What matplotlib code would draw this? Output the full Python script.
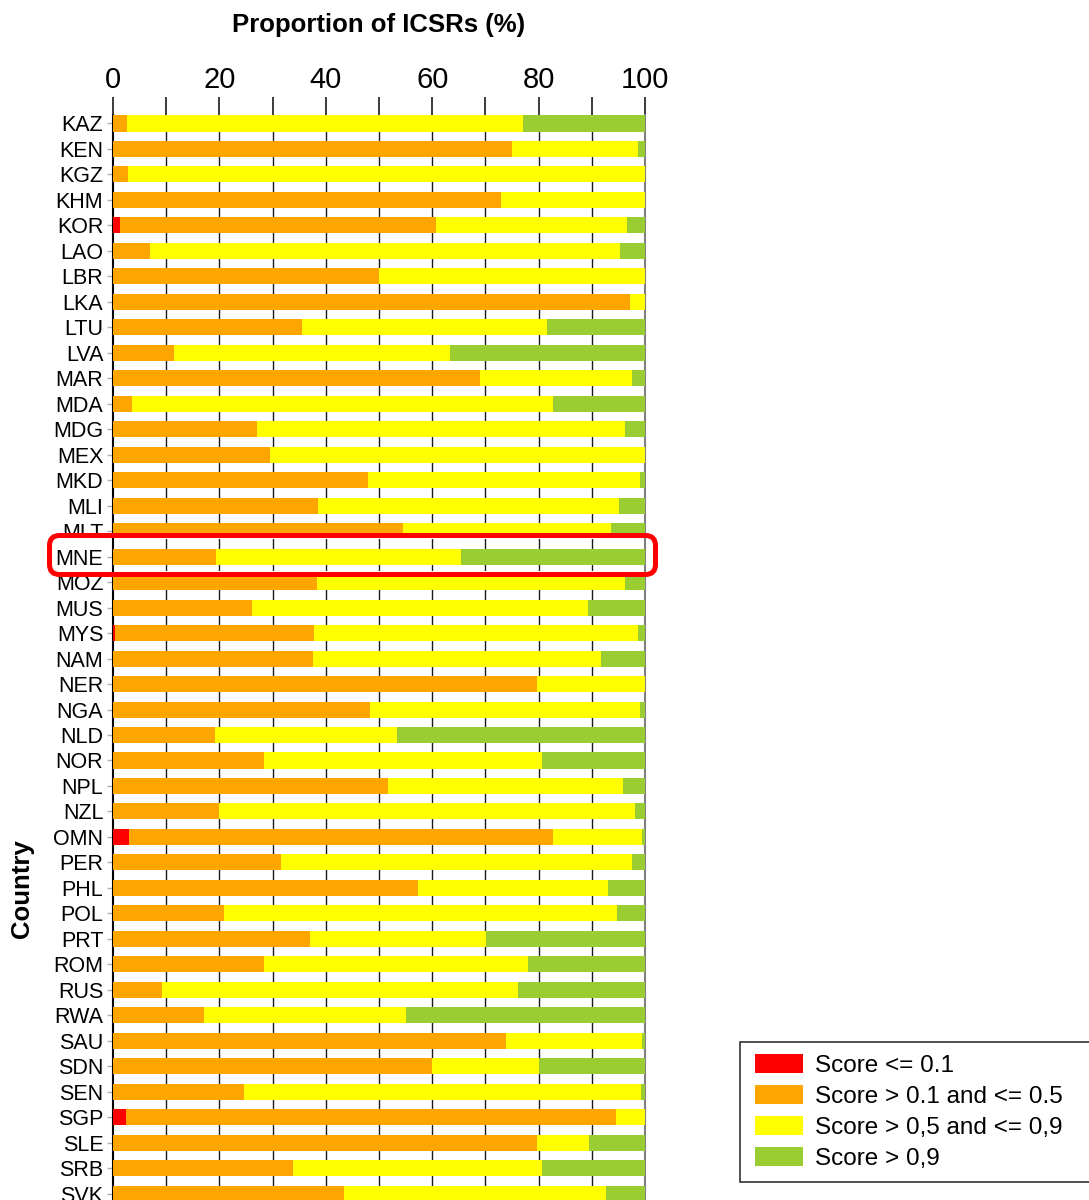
import numpy as np
import matplotlib
matplotlib.use("Agg")
import matplotlib.pyplot as plt
import matplotlib.patches as patches
from matplotlib.transforms import IdentityTransform

plt.rcParams['font.family'] = ['Liberation Sans', 'DejaVu Sans']

# ── Data: share of ICSRs per completeness-score band (%) ─────────
countries = ["KAZ", "KEN", "KGZ", "KHM", "KOR", "LAO", "LBR", "LKA", "LTU",
             "LVA", "MAR", "MDA", "MDG", "MEX", "MKD", "MLI", "MLT", "MNE",
             "MOZ", "MUS", "MYS", "NAM", "NER", "NGA", "NLD", "NOR", "NPL",
             "NZL", "OMN", "PER", "PHL", "POL", "PRT", "ROM", "RUS", "RWA",
             "SAU", "SDN", "SEN", "SGP", "SLE", "SRB", "SVK"]

score_low = [0, 0, 0, 0, 1.3, 0, 0, 0, 0,
             0, 0, 0, 0, 0, 0, 0, 0, 0,
             0, 0, 0.3, 0, 0, 0, 0, 0, 0,
             0, 3.1, 0, 0, 0, 0, 0, 0, 0,
             0, 0, 0, 2.4, 0, 0, 0]
score_mid_low = [2.6, 75.0, 2.8, 73.0, 59.5, 6.9, 50.0, 97.2, 35.5,
                 11.5, 69.0, 3.5, 27.0, 29.5, 48.0, 38.6, 54.6, 19.3,
                 38.3, 26.1, 37.5, 37.6, 79.7, 48.3, 19.1, 28.3, 51.6,
                 20.0, 79.6, 31.6, 57.4, 20.8, 37.1, 28.3, 9.3, 17.1,
                 73.9, 60.0, 24.7, 92.2, 79.7, 33.8, 43.4]
score_mid_high = [74.5, 23.7, 97.2, 27.0, 35.8, 88.4, 50.0, 2.8, 46.0,
                  51.8, 28.5, 79.3, 69.2, 70.5, 51.1, 56.5, 39.0, 46.1,
                  57.9, 63.1, 60.8, 54.2, 20.3, 50.7, 34.2, 52.3, 44.2,
                  78.1, 16.7, 65.9, 35.7, 74.0, 33.0, 49.8, 66.9, 38.0,
                  25.6, 20.1, 74.6, 5.4, 9.8, 46.9, 49.2]
score_high = [22.9, 1.3, 0, 0, 3.4, 4.7, 0, 0, 18.5,
              36.7, 2.5, 17.2, 3.8, 0, 0.9, 4.9, 6.4, 34.6,
              3.8, 10.8, 1.4, 8.2, 0, 1.0, 46.7, 19.4, 4.2,
              1.9, 0.6, 2.5, 6.9, 5.2, 29.9, 21.9, 23.8, 44.9,
              0.5, 19.9, 0.7, 0, 10.5, 19.3, 7.4]

band_labels = ["Score <= 0.1", "Score > 0.1 and <= 0.5",
               "Score > 0,5 and <= 0,9", "Score > 0,9"]
band_colors = ["#FF0000", "#FFA500", "#FFFF00", "#9ACD32"]
highlight = "MNE"

BAR_H = 0.63


def draw_bars(ax, rows):
    """Stacked horizontal bars for the given row indices."""
    series = [score_low, score_mid_low, score_mid_high, score_high]
    conts = []
    for band, (vals, col) in enumerate(zip(series, band_colors)):
        v = np.array([vals[i] for i in rows])
        left = np.zeros(len(rows))
        for prev in series[:band]:
            left += np.array([prev[i] for i in rows])
        conts.append(ax.barh(np.array(rows), v, left=left, height=BAR_H,
                             color=col, edgecolor='none', zorder=3,
                             label=band_labels[band]))
    return conts


def style_grid(ax):
    for x in np.arange(10, 100, 10):
        ax.axvline(x, color='#1a1a1a', lw=1.0, zorder=1)
    ax.spines['left'].set_color('black')
    ax.spines['left'].set_linewidth(1.5)
    ax.spines['right'].set_color('#808080')
    ax.spines['right'].set_linewidth(1.5)
    ax.spines['top'].set_visible(False)
    ax.spines['bottom'].set_visible(False)


# ── Figure ───────────────────────────────────────────────────────
W, H = 1089, 1200
fig = plt.figure(figsize=(W / 100, H / 100), dpi=100)

pitch = 25.48
y0_px = 123.5
y_top, y_bot = -0.33, 42.7
top_px = y0_px + y_top * pitch
bot_px = y0_px + y_bot * pitch
ax = fig.add_axes([113 / W, (H - bot_px) / H, 532 / W, (bot_px - top_px) / H])

rows = list(range(len(countries)))
conts = draw_bars(ax, rows)
style_grid(ax)

ax.set_xlim(0, 100)
ax.set_ylim(y_bot, y_top)
ax.xaxis.tick_top()
ax.set_xticks(np.arange(0, 101, 20))
ax.set_xticks(np.arange(10, 100, 20), minor=True)
ax.tick_params(axis='x', which='both', direction='out', length=13,
               width=1.2, color='#1a1a1a', labelsize=21, pad=2,
               bottom=False)
ax.set_yticks(rows)
ax.set_yticklabels(countries)
ax.tick_params(axis='y', length=4, width=1, color='#b0b0b0',
               labelsize=15.5, pad=3)

fig.text(379 / W, 1 - 25 / H, "Proportion of ICSRs (%)", ha='center',
         va='center', fontsize=18.5, fontweight='bold')
fig.text(22 / W, 1 - 889 / H, "Country", ha='center', va='center',
         rotation=90, fontsize=18.5, fontweight='bold')

# ── Highlighted row (white panel + red outline) ───────────────────
k = countries.index(highlight)
box_px = (49.5, 535.5, 655.5, 574.5)   # left, top, right, bottom
panel = patches.FancyBboxPatch(
    (box_px[0], H - box_px[3]), box_px[2] - box_px[0], box_px[3] - box_px[1],
    boxstyle="round,pad=0,rounding_size=10", transform=IdentityTransform(),
    facecolor='white', edgecolor='none', zorder=5)
fig.patches.append(panel)

in_top, in_bot = 538.5, 571.5
y_a = (in_top - y0_px) / pitch
y_b = (in_bot - y0_px) / pitch
ax_hl = fig.add_axes([113 / W, (H - in_bot) / H, 532 / W, (in_bot - in_top) / H])
ax_hl.set_zorder(6)
ax_hl.patch.set_visible(False)
draw_bars(ax_hl, [k])
style_grid(ax_hl)
ax_hl.set_xlim(0, 100)
ax_hl.set_ylim(y_b, y_a)
ax_hl.set_xticks([])
ax_hl.set_yticks([k])
ax_hl.set_yticklabels([highlight])
ax_hl.tick_params(axis='y', length=4, width=1, color='#b0b0b0',
                  labelsize=15.5, pad=3)

outline = patches.FancyBboxPatch(
    (box_px[0], H - box_px[3]), box_px[2] - box_px[0], box_px[3] - box_px[1],
    boxstyle="round,pad=0,rounding_size=10", transform=IdentityTransform(),
    facecolor='none', edgecolor='#FF0000', lw=3.6, zorder=7)
fig.patches.append(outline)

# ── Legend ────────────────────────────────────────────────────────
frame = patches.Rectangle((740 / W, (H - 1182) / H), 400 / W, 140 / H,
                          transform=fig.transFigure, facecolor='white',
                          edgecolor='#333333', lw=1.2, zorder=2)
fig.patches.append(frame)
leg = fig.legend(handles=conts, labels=band_labels, loc='upper left',
                 bbox_to_anchor=(755 / W, 1 - 1054 / H), frameon=False,
                 fontsize=17.5, borderpad=0, borderaxespad=0,
                 handlelength=1.98, handleheight=0.82, handletextpad=0.5,
                 labelspacing=0.33)
leg.set_zorder(3)

fig.savefig("out.png", dpi=100)
